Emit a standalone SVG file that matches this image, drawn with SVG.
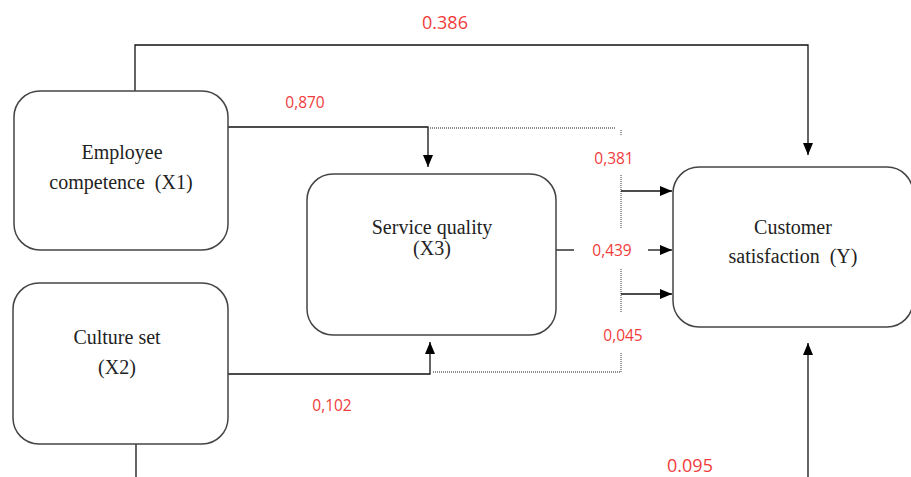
<svg xmlns="http://www.w3.org/2000/svg" width="911" height="477" viewBox="0 0 911 477">
<style>
.box{fill:#fff;stroke:#444;stroke-width:1.5}
.lbl{font-family:"Liberation Serif","Times New Roman",serif;font-size:20px;fill:#222;text-anchor:middle}
.ln{fill:none;stroke:#111;stroke-width:1.3}
.dot{fill:none;stroke:#666;stroke-width:1.3;stroke-dasharray:1,1}
.val{font-family:"Open Sans","Liberation Sans",sans-serif;font-size:15.5px;fill:#f03c3c;text-anchor:middle}
.valb{font-family:"Open Sans","Liberation Sans",sans-serif;font-size:18px;fill:#f03c3c;text-anchor:middle}
</style>
<defs>
<marker id="ah" viewBox="0 0 12 10" refX="12" refY="5" markerWidth="12" markerHeight="10" markerUnits="userSpaceOnUse" orient="auto">
<path d="M0,0 L12,5 L0,10 Z" fill="#000"/>
</marker>
</defs>
<rect width="911" height="477" fill="#fff"/>
<g id="connectors">
<path class="ln" d="M135,91 V45 H808 V155" marker-end="url(#ah)"/>
<path class="ln" d="M228,127 H428 V167" marker-end="url(#ah)"/>
<path class="dot" d="M428,128 H616"/>
<path class="dot" d="M621,130 V136 M621,175 V228 M621,269 V313 M621,353 V372 H432"/>
<path class="ln" d="M621,191 H672" marker-end="url(#ah)"/>
<path class="ln" d="M556,250 H574"/>
<path class="ln" d="M648,250 H672" marker-end="url(#ah)"/>
<path class="ln" d="M621,294 H672" marker-end="url(#ah)"/>
<path class="ln" d="M228,374 H430 V342" marker-end="url(#ah)"/>
<path class="ln" d="M136,444 V477"/>
<path class="ln" d="M808,477 V343" marker-end="url(#ah)"/>
<text class="valb" x="445" y="29">0.386</text>
<text class="val" x="305" y="108">0,870</text>
<text class="val" x="614" y="164">0,381</text>
<text class="val" x="612" y="256">0,439</text>
<text class="val" x="623" y="341">0,045</text>
<text class="val" x="332" y="411">0,102</text>
<text class="valb" x="690" y="472">0.095</text>
</g>
<g id="x1">
<rect class="box" x="14" y="91" width="214" height="159" rx="26"/>
<text class="lbl" x="122" y="159">Employee</text>
<text class="lbl" x="121" y="189" xml:space="preserve">competence  (X1)</text>
</g>
<g id="x2">
<rect class="box" x="13" y="283" width="215" height="161" rx="26"/>
<text class="lbl" x="117" y="344">Culture set</text>
<text class="lbl" x="117" y="374">(X2)</text>
</g>
<g id="x3">
<rect class="box" x="307" y="174" width="249" height="161" rx="26"/>
<text class="lbl" x="432" y="234">Service quality</text>
<text class="lbl" x="432" y="255">(X3)</text>
</g>
<g id="y">
<rect class="box" x="673" y="167" width="240" height="160" rx="26"/>
<text class="lbl" x="793" y="234">Customer</text>
<text class="lbl" x="793" y="263" xml:space="preserve">satisfaction  (Y)</text>
</g>
</svg>
